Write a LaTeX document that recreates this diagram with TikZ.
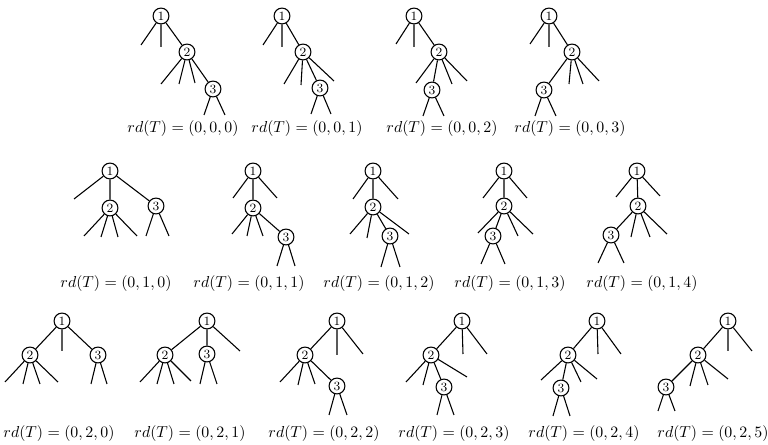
\documentclass[tikz,border=0pt]{standalone}
\begin{document}
\begin{tikzpicture}[x=0.63pt,y=-0.63pt,
  vtx/.style={circle,draw,line width=0.68pt,minimum size=10pt,inner sep=0pt,font=\footnotesize},
  lk/.style={line width=0.68pt},
  lab/.style={inner sep=0pt}]
\useasboundingbox (0,0) rectangle (768,445);
% ---------- Row 1 ----------
\begin{scope}[shift={(161,16)}]
\node[vtx] (a1) at (0,0) {1};
\node[vtx] (a2) at (26,36) {2};
\node[vtx] (a3) at (52,73) {3};
\coordinate (a1p) at (-20,29); \coordinate (a1q) at (0,31);
\coordinate (a2p) at (0,68); \coordinate (a2q) at (18,68); \coordinate (a2r) at (34,67);
\coordinate (a3p) at (43,99); \coordinate (a3q) at (64,99);
\draw[lk] (a1)--(a1p) (a1)--(a1q) (a1)--(a2) (a2)--(a2p) (a2)--(a2q) (a2)--(a2r) (a2)--(a3) (a3)--(a3p) (a3)--(a3q);
\end{scope}
\begin{scope}[shift={(282,16)}]
\node[vtx] (b1) at (0,0) {1};
\node[vtx] (b2) at (21,36) {2};
\node[vtx] (b3) at (38,72) {3};
\coordinate (b1p) at (-19,29); \coordinate (b1q) at (0,31);
\coordinate (b2p) at (2,68); \coordinate (b2q) at (19,69); \coordinate (b2r) at (52,65);
\coordinate (b3p) at (29,98); \coordinate (b3q) at (49,98);
\draw[lk] (b1)--(b1p) (b1)--(b1q) (b1)--(b2) (b2)--(b2p) (b2)--(b2q) (b2)--(b2r) (b2)--(b3) (b3)--(b3p) (b3)--(b3q);
\end{scope}
\begin{scope}[shift={(414,16)}]
\node[vtx] (c1) at (0,0) {1};
\node[vtx] (c2) at (25,36) {2};
\node[vtx] (c3) at (18,74) {3};
\coordinate (c1p) at (-18,28); \coordinate (c1q) at (0,31);
\coordinate (c2p) at (2,67); \coordinate (c2q) at (38,68); \coordinate (c2r) at (53,65);
\coordinate (c3p) at (9,100); \coordinate (c3q) at (30,100);
\draw[lk] (c1)--(c1p) (c1)--(c1q) (c1)--(c2) (c2)--(c2p) (c2)--(c2q) (c2)--(c2r) (c2)--(c3) (c3)--(c3p) (c3)--(c3q);
\end{scope}
\begin{scope}[shift={(549,16)}]
\node[vtx] (d1) at (0,0) {1};
\node[vtx] (d2) at (23,36) {2};
\node[vtx] (d3) at (-5,74) {3};
\coordinate (d1p) at (-19,28); \coordinate (d1q) at (0,31);
\coordinate (d2p) at (20,68); \coordinate (d2q) at (34,68); \coordinate (d2r) at (50,65);
\coordinate (d3p) at (-14,100); \coordinate (d3q) at (7,100);
\draw[lk] (d1)--(d1p) (d1)--(d1q) (d1)--(d2) (d2)--(d2p) (d2)--(d2q) (d2)--(d2r) (d2)--(d3) (d3)--(d3p) (d3)--(d3q);
\end{scope}
\node[lab] (la) at (183,129) {$rd(T)=(0,0,0)$};
\node[lab] (lb) at (307,129) {$rd(T)=(0,0,1)$};
\node[lab] (lc) at (442,129) {$rd(T)=(0,0,2)$};
\node[lab] (ld) at (570,129) {$rd(T)=(0,0,3)$};
% ---------- Row 2 ----------
\begin{scope}[shift={(110,171)}]
\node[vtx] (e1) at (0,0) {1};
\node[vtx] (e2) at (0,37) {2};
\node[vtx] (e3) at (46,35) {3};
\coordinate (e1p) at (-36,28);
\coordinate (e2p) at (-26,65); \coordinate (e2q) at (-9,66); \coordinate (e2r) at (8,66); \coordinate (e2s) at (27,65);
\coordinate (e3p) at (36,65); \coordinate (e3q) at (59,65);
\draw[lk] (e1)--(e1p) (e1)--(e2) (e1)--(e3) (e2)--(e2p) (e2)--(e2q) (e2)--(e2r) (e2)--(e2s) (e3)--(e3p) (e3)--(e3q);
\end{scope}
\begin{scope}[shift={(253,171)}]
\node[vtx] (f1) at (0,0) {1};
\node[vtx] (f2) at (0,37) {2};
\node[vtx] (f3) at (33,66) {3};
\coordinate (f1p) at (-20,27); \coordinate (f1q) at (24,27);
\coordinate (f2p) at (-21,63); \coordinate (f2q) at (-6,65); \coordinate (f2r) at (10,65);
\coordinate (f3p) at (24,95); \coordinate (f3q) at (42,95);
\draw[lk] (f1)--(f1p) (f1)--(f1q) (f1)--(f2) (f2)--(f2p) (f2)--(f2q) (f2)--(f2r) (f2)--(f3) (f3)--(f3p) (f3)--(f3q);
\end{scope}
\begin{scope}[shift={(373,171)}]
\node[vtx] (g1) at (0,0) {1};
\node[vtx] (g2) at (0,36) {2};
\node[vtx] (g3) at (17,65) {3};
\coordinate (g1p) at (-20,28); \coordinate (g1q) at (25,28);
\coordinate (g2p) at (-23,63); \coordinate (g2q) at (-6,67); \coordinate (g2r) at (36,63);
\coordinate (g3p) at (8,96); \coordinate (g3q) at (27,96);
\draw[lk] (g1)--(g1p) (g1)--(g1q) (g1)--(g2) (g2)--(g2p) (g2)--(g2q) (g2)--(g2r) (g2)--(g3) (g3)--(g3p) (g3)--(g3q);
\end{scope}
\begin{scope}[shift={(504,171)}]
\node[vtx] (h1) at (0,0) {1};
\node[vtx] (h2) at (0,35) {2};
\node[vtx] (h3) at (-11,65) {3};
\coordinate (h1p) at (-21,27); \coordinate (h1q) at (23,27);
\coordinate (h2p) at (-26,62); \coordinate (h2q) at (14,65); \coordinate (h2r) at (29,63);
\coordinate (h3p) at (-23,93); \coordinate (h3q) at (1,93);
\draw[lk] (h1)--(h1p) (h1)--(h1q) (h1)--(h2) (h2)--(h2p) (h2)--(h2q) (h2)--(h2r) (h2)--(h3) (h3)--(h3p) (h3)--(h3q);
\end{scope}
\begin{scope}[shift={(637,171)}]
\node[vtx] (i1) at (0,0) {1};
\node[vtx] (i2) at (1,35) {2};
\node[vtx] (i3) at (-26,64) {3};
\coordinate (i1p) at (-21,26); \coordinate (i1q) at (23,25);
\coordinate (i2p) at (-6,66); \coordinate (i2q) at (13,66); \coordinate (i2r) at (30,63);
\coordinate (i3p) at (-39,92); \coordinate (i3q) at (-13,92);
\draw[lk] (i1)--(i1p) (i1)--(i1q) (i1)--(i2) (i2)--(i2p) (i2)--(i2q) (i2)--(i2r) (i2)--(i3) (i3)--(i3p) (i3)--(i3q);
\end{scope}
\node[lab] (le) at (116,284) {$rd(T)=(0,1,0)$};
\node[lab] (lf) at (249,284) {$rd(T)=(0,1,1)$};
\node[lab] (lg) at (379,284) {$rd(T)=(0,1,2)$};
\node[lab] (lh) at (510,284) {$rd(T)=(0,1,3)$};
\node[lab] (li) at (642,284) {$rd(T)=(0,1,4)$};
% ---------- Row 3 ----------
\begin{scope}[shift={(62,321)}]
\node[vtx] (j1) at (0,0) {1};
\node[vtx] (j2) at (-32,34) {2};
\node[vtx] (j3) at (36,34) {3};
\coordinate (j1p) at (0,30);
\coordinate (j2p) at (-57,61); \coordinate (j2q) at (-39,63); \coordinate (j2r) at (-22,63); \coordinate (j2s) at (-4,61);
\coordinate (j3p) at (29,63); \coordinate (j3q) at (45,63);
\draw[lk] (j1)--(j1p) (j1)--(j2) (j1)--(j3) (j2)--(j2p) (j2)--(j2q) (j2)--(j2r) (j2)--(j2s) (j3)--(j3p) (j3)--(j3q);
\end{scope}
\begin{scope}[shift={(207,321)}]
\node[vtx] (k1) at (0,0) {1};
\node[vtx] (k2) at (-42,34) {2};
\node[vtx] (k3) at (0,33) {3};
\coordinate (k1p) at (33,30);
\coordinate (k2p) at (-67,61); \coordinate (k2q) at (-50,63); \coordinate (k2r) at (-33,63); \coordinate (k2s) at (-16,60);
\coordinate (k3p) at (-7,63); \coordinate (k3q) at (10,63);
\draw[lk] (k1)--(k1p) (k1)--(k2) (k1)--(k3) (k2)--(k2p) (k2)--(k2q) (k2)--(k2r) (k2)--(k2s) (k3)--(k3p) (k3)--(k3q);
\end{scope}
\begin{scope}[shift={(337,321)}]
\node[vtx] (l1) at (0,0) {1};
\node[vtx] (l2) at (-32,34) {2};
\node[vtx] (l3) at (0,65) {3};
\coordinate (l1p) at (0,34); \coordinate (l1q) at (26,33);
\coordinate (l2p) at (-57,61); \coordinate (l2q) at (-39,64); \coordinate (l2r) at (-22,63);
\coordinate (l3p) at (-8,94); \coordinate (l3q) at (10,94);
\draw[lk] (l1)--(l1p) (l1)--(l1q) (l1)--(l2) (l2)--(l2p) (l2)--(l2q) (l2)--(l2r) (l2)--(l3) (l3)--(l3p) (l3)--(l3q);
\end{scope}
\begin{scope}[shift={(462,321)}]
\node[vtx] (m1) at (0,0) {1};
\node[vtx] (m2) at (-31,34) {2};
\node[vtx] (m3) at (-18,66) {3};
\coordinate (m1p) at (1,33); \coordinate (m1q) at (25,33);
\coordinate (m2p) at (-56,61); \coordinate (m2q) at (-39,64); \coordinate (m2r) at (5,56);
\coordinate (m3p) at (-25,94); \coordinate (m3q) at (-8,94);
\draw[lk] (m1)--(m1p) (m1)--(m1q) (m1)--(m2) (m2)--(m2p) (m2)--(m2q) (m2)--(m2r) (m2)--(m3) (m3)--(m3p) (m3)--(m3q);
\end{scope}
\begin{scope}[shift={(597,321)}]
\node[vtx] (n1) at (0,0) {1};
\node[vtx] (n2) at (-29,34) {2};
\node[vtx] (n3) at (-36,67) {3};
\coordinate (n1p) at (1,33); \coordinate (n1q) at (24,33);
\coordinate (n2p) at (-56,59); \coordinate (n2q) at (-16,61); \coordinate (n2r) at (0,58);
\coordinate (n3p) at (-44,95); \coordinate (n3q) at (-27,95);
\draw[lk] (n1)--(n1p) (n1)--(n1q) (n1)--(n2) (n2)--(n2p) (n2)--(n2q) (n2)--(n2r) (n2)--(n3) (n3)--(n3p) (n3)--(n3q);
\end{scope}
\begin{scope}[shift={(728,321)}]
\node[vtx] (o1) at (0,0) {1};
\node[vtx] (o2) at (-30,34) {2};
\node[vtx] (o3) at (-62,66) {3};
\coordinate (o1p) at (0,30); \coordinate (o1q) at (24,30);
\coordinate (o2p) at (-38,65); \coordinate (o2q) at (-20,64); \coordinate (o2r) at (0,58);
\coordinate (o3p) at (-70,90); \coordinate (o3q) at (-53,90);
\draw[lk] (o1)--(o1p) (o1)--(o1q) (o1)--(o2) (o2)--(o2p) (o2)--(o2q) (o2)--(o2r) (o2)--(o3) (o3)--(o3p) (o3)--(o3q);
\end{scope}
\node[lab] (lj) at (59,434) {$rd(T)=(0,2,0)$};
\node[lab] (lk) at (190,434) {$rd(T)=(0,2,1)$};
\node[lab] (ll) at (324,434) {$rd(T)=(0,2,2)$};
\node[lab] (lm) at (454,434) {$rd(T)=(0,2,3)$};
\node[lab] (ln) at (584,434) {$rd(T)=(0,2,4)$};
\node[lab] (lo) at (713,434) {$rd(T)=(0,2,5)$};
\end{tikzpicture}
\end{document}
